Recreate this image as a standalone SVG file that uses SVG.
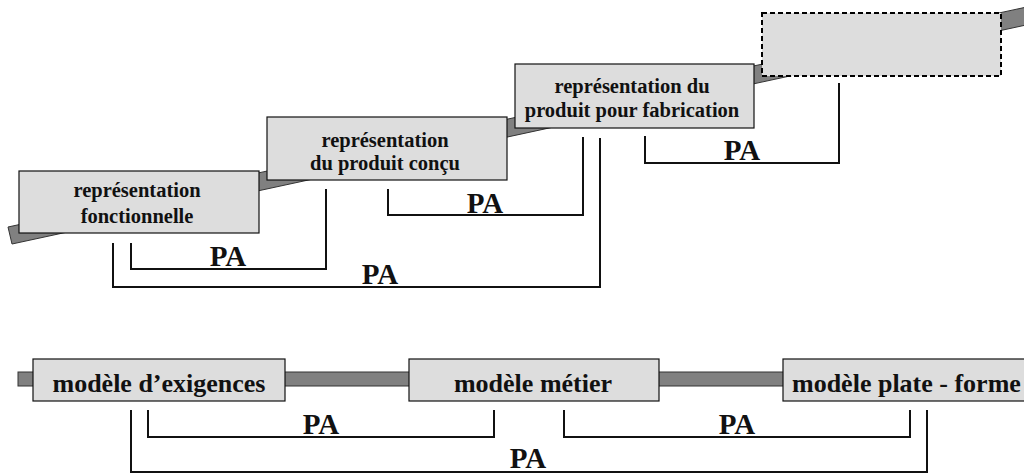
<svg xmlns="http://www.w3.org/2000/svg" width="1024" height="473" viewBox="0 0 1024 473">
<style>
.band{fill:#808080;stroke:#333;stroke-width:1}
.box{fill:#dddddd;stroke:#111;stroke-width:1.2}
.dash{fill:#dddddd;stroke:#000;stroke-width:2;stroke-dasharray:5 3}
.br{fill:none;stroke:#111;stroke-width:2}
.t{font-family:"Liberation Serif","Times New Roman",serif;font-weight:bold;fill:#111;text-anchor:middle}
.s{font-size:20.5px}
.b{font-size:26px}
.pa{font-size:29px}
</style>
<rect width="1024" height="473" fill="#fff"/>
<g id="bands">
<polygon class="band" points="12,244 1040,22 1036,5 8,227"/>
<rect class="band" x="18" y="372" width="1000" height="14"/>
</g>
<g id="connectors">
<path class="br" d="M131,243 V269 H326 V189"/>
<path class="br" d="M113,243 V287 H600 V138"/>
<path class="br" d="M388,189 V215 H583 V137"/>
<path class="br" d="M645,136 V163 H839 V83"/>
<path class="br" d="M148,410 V437 H494 V410"/>
<path class="br" d="M564,410 V437 H910 V410"/>
<path class="br" d="M131,410 V472 H927 V410"/>
<text class="t pa" x="228" y="266">PA</text>
<text class="t pa" x="380" y="284">PA</text>
<text class="t pa" x="485" y="213">PA</text>
<text class="t pa" x="742" y="160">PA</text>
<text class="t pa" x="321" y="434">PA</text>
<text class="t pa" x="737" y="434">PA</text>
<text class="t pa" x="528" y="468">PA</text>
</g>
<g id="n1">
<rect class="box" x="19" y="171" width="240" height="62"/>
<text class="t s" x="137" y="197">représentation</text>
<text class="t s" x="137" y="223">fonctionnelle</text>
</g>
<g id="n2">
<rect class="box" x="267" y="117" width="240" height="63"/>
<text class="t s" x="385" y="147">représentation</text>
<text class="t s" x="385" y="170">du produit conçu</text>
</g>
<g id="n3">
<rect class="box" x="515" y="64" width="239" height="64"/>
<text class="t s" x="632" y="93">représentation du</text>
<text class="t s" x="632" y="117">produit pour fabrication</text>
</g>
<g id="n4">
<rect class="dash" x="762" y="13" width="239" height="63"/>
</g>
<g id="m1">
<rect class="box" x="33" y="359" width="252" height="42"/>
<text class="t b" x="159" y="392">modèle d’exigences</text>
</g>
<g id="m2">
<rect class="box" x="409" y="359" width="250" height="42"/>
<text class="t b" x="533" y="392">modèle métier</text>
</g>
<g id="m3">
<rect class="box" x="783" y="359" width="260" height="42"/>
<text class="t b" x="792" y="392" style="text-anchor:start">modèle plate - forme</text>
</g>
</svg>
